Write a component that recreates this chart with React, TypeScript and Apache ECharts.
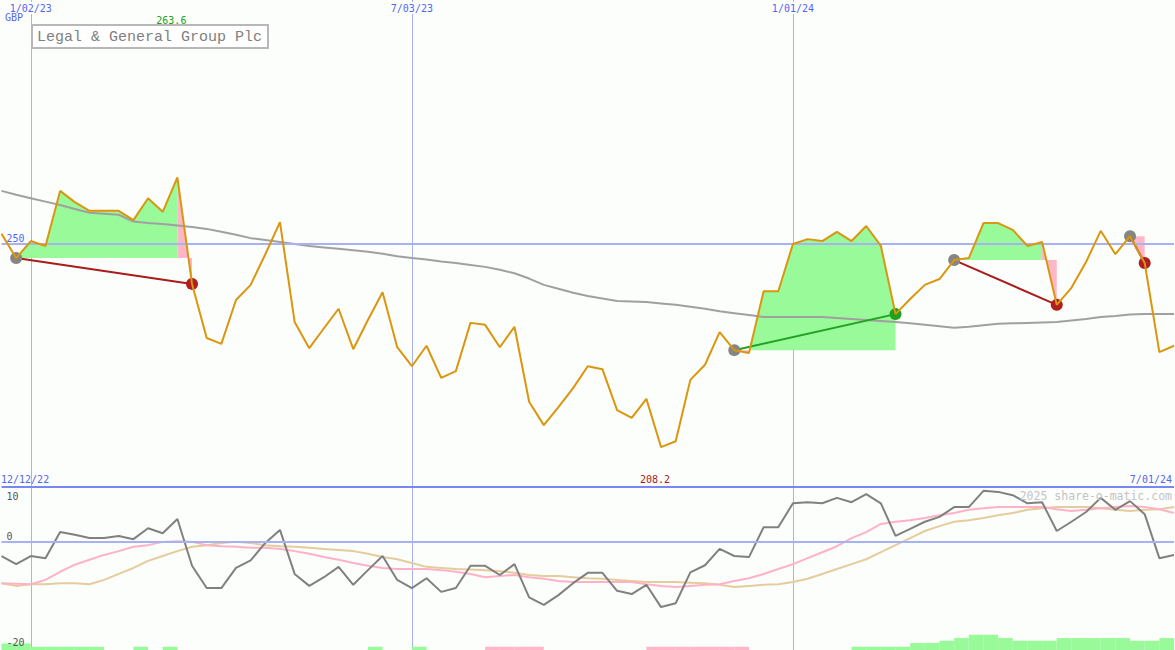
import React, { useEffect, useRef } from "react";
import * as echarts from "echarts";

// ---------- data ----------
const firstWeek = Date.UTC(2022, 11, 19);
const dates: string[] = [];
for (let i = 0; i < 81; i++) {
  const d = new Date(firstWeek + i * 7 * 86400000);
  const m = d.getUTCMonth() + 1;
  const dd = String(d.getUTCDate()).padStart(2, "0");
  const yy = String(d.getUTCFullYear() % 100).padStart(2, "0");
  dates.push(`${m}/${dd}/${yy}`);
}
const dateTicks = ["1/02/23", "7/03/23", "1/01/24"];
const rangeStart = "12/12/22";
const priceTickLabels = [250];
const oscTickLabels = [10, 0, -20];

const price = [
  252.0, 247.0, 250.5, 249.5, 260.8, 258.5, 256.7, 256.7, 256.7, 254.8,
  259.3, 256.5, 263.6, 241.7, 230.6, 229.4, 238.4, 241.5, 247.8, 254.4,
  233.9, 228.5, 232.6, 236.6, 228.3, 234.3, 240.0, 228.7, 224.8, 229.0,
  222.4, 223.8, 233.7, 233.3, 228.7, 232.9, 217.5, 212.7, 216.4, 220.3,
  224.8, 224.2, 215.8, 214.2, 218.1, 208.2, 209.4, 222.0, 225.1, 231.8,
  228.1, 227.5, 240.2, 240.2, 249.9, 250.9, 250.5, 252.4, 250.5, 253.6,
  249.5, 235.5, 238.6, 241.5, 242.7, 246.6, 247.0, 254.2, 254.2, 252.8,
  249.5, 250.3, 237.4, 240.9, 246.2, 252.6, 247.8, 251.5, 246.0, 227.7,
  229.0,
];

const movingAvg = [
  260.8, 260.0, 259.3, 258.6, 257.9, 257.1, 256.3, 256.1, 255.9, 254.5,
  254.2, 254.0, 253.7, 253.4, 253.0, 252.4, 251.8, 251.1, 250.7, 250.3,
  249.9, 249.5, 249.2, 248.9, 248.6, 248.3, 247.9, 247.4, 247.0, 246.7,
  246.3, 246.0, 245.6, 245.2, 244.6, 243.9, 242.8, 241.5, 240.7, 239.9,
  239.2, 238.7, 238.2, 238.1, 238.0, 237.7, 237.4, 237.0, 236.6, 236.1,
  235.7, 235.3, 234.9, 234.9, 234.9, 234.9, 234.9, 234.7, 234.5, 234.3,
  234.1, 233.9, 233.6, 233.3, 233.0, 232.7, 232.9, 233.2, 233.5, 233.6,
  233.7, 233.8, 233.9, 234.2, 234.5, 234.9, 235.1, 235.4, 235.5, 235.5,
  235.5,
];

const tradeEntries = [1, 50, 65, 77];
const tradeExits = [13, 61, 72, 78];

const oscillator = [
  -2.7, -4.2, -2.7, -3.1, 1.7, 1.2, 0.6, 0.6, 1.0, 0.4,
  2.4, 1.5, 4.1, -4.5, -8.6, -8.6, -4.9, -3.5, -0.3, 2.1,
  -6.0, -8.2, -6.6, -4.7, -8.0, -5.3, -2.7, -7.1, -8.6, -6.8,
  -9.3, -8.6, -4.5, -4.5, -6.2, -4.2, -10.3, -11.7, -9.9, -7.7,
  -5.8, -5.8, -9.1, -9.7, -8.0, -12.1, -11.4, -5.7, -4.4, -1.4,
  -2.7, -2.9, 2.6, 2.6, 7.0, 7.2, 7.0, 8.0, 7.2, 8.7,
  7.0, 1.0, 2.3, 3.6, 4.5, 6.3, 6.3, 9.3, 9.1, 8.5,
  7.0, 7.2, 1.9, 3.6, 5.4, 8.0, 5.8, 7.4, 5.0, -3.1,
  -2.5,
];

const signalFast = [
  -7.7, -7.8, -7.9, -7.1, -5.6, -4.3, -3.4, -2.5, -1.8, -1.0,
  -0.7, -0.1, 0.0, -0.1, -0.7, -0.9, -1.0, -1.2, -1.2, -1.4,
  -1.8, -2.3, -2.9, -3.4, -4.0, -4.5, -4.9, -5.1, -5.1, -5.1,
  -5.3, -5.6, -6.0, -6.6, -6.4, -6.2, -6.6, -6.9, -7.3, -7.5,
  -7.5, -7.5, -7.5, -7.5, -7.9, -8.2, -8.4, -8.2, -8.0, -7.9,
  -7.3, -6.8, -6.0, -5.1, -4.2, -3.1, -2.0, -0.9, 0.6, 1.7,
  3.2, 3.6, 3.9, 4.3, 4.8, 5.2, 5.8, 6.1, 6.3, 6.3,
  6.3, 6.3, 5.9, 5.6, 5.8, 6.1, 6.3, 6.5, 6.3, 5.9,
  5.2,
];

const signalSlow = [
  -7.7, -8.2, -7.9, -7.9, -7.7, -7.7, -7.9, -7.1, -6.0, -4.9,
  -3.6, -2.7, -1.8, -1.0, -0.7, -0.3, -0.1, -0.3, -0.7, -0.9,
  -1.0, -1.2, -1.4, -1.6, -1.8, -2.3, -2.9, -3.3, -4.0, -4.7,
  -4.9, -5.1, -5.2, -5.3, -5.5, -5.8, -6.2, -6.4, -6.4, -6.6,
  -6.8, -6.9, -7.1, -7.3, -7.5, -7.5, -7.5, -7.6, -7.7, -8.0,
  -8.4, -8.2, -8.0, -7.9, -7.5, -6.9, -6.0, -5.1, -4.2, -3.3,
  -2.0, -0.7, 0.6, 1.9, 2.8, 3.6, 3.9, 4.3, 4.8, 5.2,
  5.8, 6.1, 6.3, 6.3, 6.3, 6.1, 5.8, 5.6, 5.8, 5.9,
  6.3,
];

// weekly strength bars (80 bands between consecutive weeks)
const barsUp = [
  1.2, 1.2, 0.6, 0.6, 0.6, 0.6, 0.6, 0, 0, 0.6,
  0, 0.6, 0, 0, 0, 0, 0, 0, 0, 0,
  0, 0, 0, 0, 0, 0.6, 0, 0, 0.6, 0,
  0, 0, 0, 0, 0, 0, 0, 0, 0, 0,
  0, 0, 0, 0, 0, 0, 0, 0, 0, 0,
  0, 0, 0, 0, 0, 0, 0, 0, 0.6, 0.6,
  0.6, 0.6, 1.3, 1.3, 1.7, 2.2, 2.8, 2.8, 2.2, 1.7,
  1.7, 1.7, 2.2, 2.2, 2.2, 2.2, 2.2, 1.7, 1.7, 2.2,
];
const barsDown = [
  0, 0, 0, 0, 0, 0, 0, 0, 0, 0,
  0, 0, 0, 0, 0, 0, 0, 0, 0, 0,
  0, 0, 0, 0, 0, 0, 0, 0, 0, 0,
  0, 0, 0, 0.6, 0.6, 0.6, 0.6, 0, 0, 0,
  0, 0, 0, 0, 0.6, 0.6, 0.6, 0.6, 0.6, 0.6,
  0.6, 0, 0, 0, 0, 0, 0, 0, 0, 0,
  0, 0, 0, 0, 0, 0, 0, 0, 0, 0,
  0, 0, 0, 0, 0, 0, 0, 0, 0, 0,
];

// ---------- styles ----------
const BG = "#fcfefc";
const GRID_BLUE = "#a6b2f2";
const SEP_BLUE = "#7888f0";
const LABEL_BLUE = "#5466f0";
const PRICE_COL = "#da960e";
const MA_COL = "#a0a0a0";
const FILL_GREEN = "#98fa98";
const FILL_PINK = "#ffb6c8";
const LOSS_LINE = "#a81c1c";
const GAIN_LINE = "#22a022";
const MONO = '"DejaVu Sans Mono", monospace';

function clampPoly(pts: number[][], yb: number, above: boolean): number[][] {
  const out: number[][] = [];
  if (pts.length < 2) return out;
  out.push([pts[0][0], yb]);
  const clamp = (y: number) => (above ? Math.min(y, yb) : Math.max(y, yb));
  for (let i = 0; i < pts.length; i++) {
    const p = pts[i];
    out.push([p[0], clamp(p[1])]);
    if (i < pts.length - 1) {
      const q = pts[i + 1];
      if ((p[1] - yb) * (q[1] - yb) < 0) {
        const t = (yb - p[1]) / (q[1] - p[1]);
        out.push([p[0] + t * (q[0] - p[0]), yb]);
      }
    }
  }
  out.push([pts[pts.length - 1][0], yb]);
  return out;
}

export default function App() {
  const ref = useRef<HTMLDivElement>(null);

  useEffect(() => {
    const el = ref.current!;
    const chart = echarts.init(el, null, { renderer: "svg" });

    const tickFn = (idx: number) => dateTicks.includes(dates[idx]);

    const tradeSeries = tradeEntries.map((e, k) => {
      const x = tradeExits[k];
      const gain = price[x] >= price[e];
      return {
        type: "line",
        xAxisIndex: 0,
        yAxisIndex: 0,
        z: 4,
        silent: true,
        symbol: "circle",
        symbolSize: 12,
        showAllSymbol: true,
        lineStyle: { color: gain ? GAIN_LINE : LOSS_LINE, width: 2 },
        data: [
          { value: [e, price[e]], itemStyle: { color: "#858585" } },
          { value: [x, price[x]], itemStyle: { color: gain ? GAIN_LINE : "#b01e1e" } },
        ],
      };
    });

    const oscLabelStyle = { color: "#555555", fontFamily: MONO, fontSize: 10 };

    const option: any = {
      animation: false,
      backgroundColor: BG,
      grid: [
        { left: 1.5, right: 1, top: 0, height: 487 },
        { left: 1.5, right: 1, top: 487, height: 163 },
      ],
      xAxis: [
        {
          gridIndex: 0,
          type: "category",
          data: dates,
          boundaryGap: false,
          position: "top",
          axisLine: { show: false },
          axisTick: { show: false },
          axisLabel: {
            inside: true,
            interval: tickFn,
            color: LABEL_BLUE,
            fontFamily: MONO,
            fontSize: 10,
            margin: 2,
            backgroundColor: BG,
            padding: [1, 1, 1, 1],
          },
          splitLine: { show: true, interval: tickFn, lineStyle: { color: GRID_BLUE, width: 1 } },
        },
        {
          gridIndex: 1,
          type: "category",
          data: dates,
          boundaryGap: false,
          axisLine: { show: false },
          axisTick: { show: false },
          axisLabel: { show: false },
          splitLine: { show: true, interval: tickFn, lineStyle: { color: GRID_BLUE, width: 1 } },
        },
        {
          gridIndex: 1,
          type: "category",
          data: dates.slice(0, 80),
          boundaryGap: true,
          show: false,
        },
      ],
      yAxis: [
        {
          gridIndex: 0,
          type: "value",
          min: 200,
          max: 300,
          interval: 50,
          axisLine: { show: false },
          axisTick: { show: false },
          splitLine: { show: false },
          axisLabel: {
            inside: true,
            margin: 5,
            color: LABEL_BLUE,
            fontFamily: MONO,
            fontSize: 10,
            verticalAlign: "bottom",
            formatter: (v: number) => (priceTickLabels.includes(v) ? String(v) : ""),
          },
        },
        {
          gridIndex: 1,
          type: "value",
          min: -20,
          max: 10,
          interval: 10,
          z: 10,
          axisLine: { show: false },
          axisTick: { show: false },
          splitLine: { show: false },
          axisLabel: {
            inside: true,
            margin: 5,
            ...oscLabelStyle,
            verticalAlign: "bottom",
            verticalAlignMinLabel: "bottom",
            verticalAlignMaxLabel: "top",
            formatter: (v: number) => {
              if (!oscTickLabels.includes(v)) return "";
              if (v === 10) return `{t|${v}}`;
              if (v === -20) return `{b|${v}}`;
              return String(v);
            },
            rich: {
              t: { ...oscLabelStyle, padding: [4, 0, 0, 0] },
              b: { ...oscLabelStyle, padding: [0, 0, 3, 0] },
            },
          },
        },
        { gridIndex: 1, type: "value", min: 0, max: 30, show: false },
      ],
      series: [
        {
          type: "custom",
          xAxisIndex: 0,
          yAxisIndex: 0,
          z: 1,
          silent: true,
          encode: { x: [0, 2], y: [1, 3] },
          data: tradeEntries.map((e, k) => [e, price[e], tradeExits[k], price[tradeExits[k]]]),
          renderItem: (params: any, api: any) => {
            const k = params.dataIndex;
            const e = tradeEntries[k];
            const x = tradeExits[k];
            const base = price[e];
            const yb = api.coord([e, base])[1];
            const pts: number[][] = [];
            for (let i = e; i <= x; i++) pts.push(api.coord([i, price[i]]));
            const losing = price[x] < base;
            const mainPts = losing ? pts.slice(0, pts.length - 1) : pts;
            const children: any[] = [];
            if (mainPts.length >= 2) {
              children.push({
                type: "polygon",
                shape: { points: clampPoly(mainPts, yb, true) },
                style: { fill: FILL_GREEN },
              });
              children.push({
                type: "polygon",
                shape: { points: clampPoly(mainPts, yb, false) },
                style: { fill: FILL_PINK },
              });
            }
            if (losing) {
              const p = pts[pts.length - 2];
              const q = pts[pts.length - 1];
              children.push({
                type: "polygon",
                shape: { points: [[p[0], yb], p, q, [q[0], yb]] },
                style: { fill: FILL_PINK },
              });
            }
            return { type: "group", children };
          },
        },
        {
          type: "line",
          name: "MA",
          xAxisIndex: 0,
          yAxisIndex: 0,
          z: 3,
          silent: true,
          symbol: "none",
          data: movingAvg,
          lineStyle: { color: MA_COL, width: 2 },
          markLine: {
            silent: true,
            symbol: "none",
            label: { show: false },
            lineStyle: { color: GRID_BLUE, width: 2, type: "solid" },
            data: [{ yAxis: 250 }],
          },
        },
        ...tradeSeries,
        {
          type: "line",
          name: "price",
          xAxisIndex: 0,
          yAxisIndex: 0,
          z: 5,
          silent: true,
          symbol: "none",
          data: price,
          lineStyle: { color: PRICE_COL, width: 2 },
        },
        {
          type: "bar",
          xAxisIndex: 2,
          yAxisIndex: 2,
          silent: true,
          barWidth: "100%",
          barGap: "-100%",
          data: barsUp,
          itemStyle: { color: FILL_GREEN },
        },
        {
          type: "bar",
          xAxisIndex: 2,
          yAxisIndex: 2,
          silent: true,
          barWidth: "100%",
          barGap: "-100%",
          data: barsDown,
          itemStyle: { color: FILL_PINK },
        },
        {
          type: "line",
          xAxisIndex: 1,
          yAxisIndex: 1,
          z: 3,
          silent: true,
          symbol: "none",
          data: signalSlow,
          lineStyle: { color: "#e4cc9c", width: 2 },
          markLine: {
            silent: true,
            symbol: "none",
            label: { show: false },
            data: [
              { yAxis: 0, lineStyle: { color: GRID_BLUE, width: 2, type: "solid" } },
              { yAxis: 10, lineStyle: { color: SEP_BLUE, width: 2, type: "solid" } },
            ],
          },
        },
        {
          type: "line",
          xAxisIndex: 1,
          yAxisIndex: 1,
          z: 3,
          silent: true,
          symbol: "none",
          data: signalFast,
          lineStyle: { color: "#ffb2c6", width: 2 },
        },
        {
          type: "line",
          xAxisIndex: 1,
          yAxisIndex: 1,
          z: 4,
          silent: true,
          symbol: "none",
          data: oscillator,
          lineStyle: { color: "#808080", width: 2 },
        },
      ],
    };

    chart.setOption(option);

    const maxV = Math.max(...price);
    const minV = Math.min(...price);
    const maxIdx = price.indexOf(maxV);
    const minIdx = price.indexOf(minV);
    const maxX = chart.convertToPixel({ gridIndex: 0 } as any, [maxIdx, maxV])[0];
    const minX = chart.convertToPixel({ gridIndex: 0 } as any, [minIdx, minV])[0];

    const txt = (id: string, text: string, x: number, y: number, fill: string, font: string, align: string) => ({
      type: "text",
      id,
      z: 100,
      silent: true,
      style: {
        text,
        x,
        y,
        fill,
        font,
        align,
        verticalAlign: "middle",
        textAlign: align,
        textVerticalAlign: "middle",
      },
    });

    chart.setOption({
      graphic: [
        {
          type: "group",
          id: "titleBox",
          z: 100,
          silent: true,
          children: [
            {
              type: "rect",
              shape: { x: 32, y: 25, width: 236, height: 23 },
              style: { fill: "#ffffff", stroke: "#b8b8b8", lineWidth: 2 },
            },
            {
              type: "text",
              style: {
                text: "Legal & General Group Plc",
                x: 37,
                y: 37,
                fill: "#808080",
                font: '15px "Liberation Mono", monospace',
                align: "left",
                verticalAlign: "middle",
                textAlign: "left",
                textVerticalAlign: "middle",
              },
            },
          ],
        },
        txt("gbp", "GBP", 5, 17, LABEL_BLUE, `10px ${MONO}`, "left"),
        txt("rs", rangeStart, 1, 479, LABEL_BLUE, `10px ${MONO}`, "left"),
        txt("re", dates[dates.length - 1], 1172, 479, LABEL_BLUE, `10px ${MONO}`, "right"),
        txt("wm", "2025 share-o-matic.com", 1172, 496, "#c4c4c4", `11.5px ${MONO}`, "right"),
        txt("mx", maxV.toFixed(1), maxX - 6, 20, "#22a022", `10px ${MONO}`, "center"),
        txt("mn", minV.toFixed(1), minX - 6, 479, "#a81c1c", `10px ${MONO}`, "center"),
      ],
    });

    return () => chart.dispose();
  }, []);

  return (
    <div
      ref={ref}
      style={{ position: "fixed", left: 0, top: 0, width: 1175, height: 650, background: BG }}
    />
  );
}
